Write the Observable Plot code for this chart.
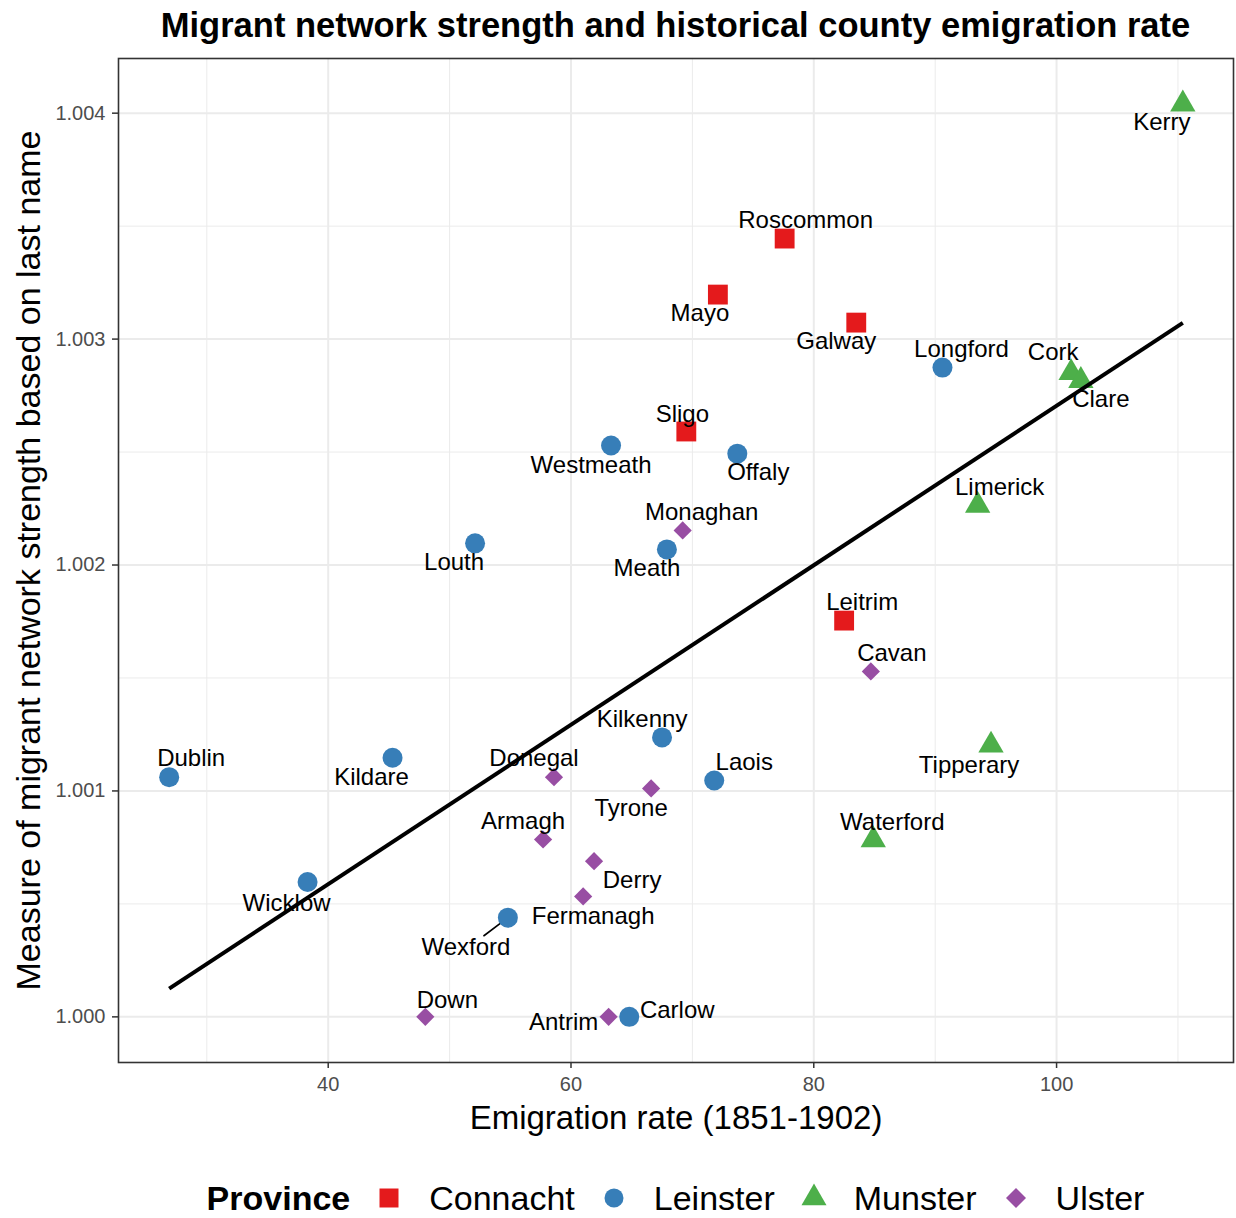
<!DOCTYPE html>
<html>
<head>
<meta charset="utf-8">
<script src="https://cdn.jsdelivr.net/npm/d3@7"></script>
<script src="https://cdn.jsdelivr.net/npm/@observablehq/plot@0.6"></script>
<style>
  body { margin: 0; background: #fff; font-family: "Liberation Sans", Arial, Helvetica, sans-serif; }
  #wrap { position: relative; width: 1236px; height: 1218px; overflow: hidden; }
  #title { position: absolute; left: 115px; width: 1121px; top: 0; height: 50px; line-height: 50px;
           text-align: center; font-weight: bold; font-size: 34.5px; color: #000; white-space: nowrap; }
  #chart { position: absolute; left: 0; top: 50px; }
  #legend { position: absolute; left: 0; top: 1178px; width: 1236px; height: 40px; padding-left: 115px;
            box-sizing: border-box; display: flex; justify-content: center; align-items: center;
            font-size: 34px; line-height: 40px; color: #000; white-space: nowrap; }
  #legend .ttl { font-weight: bold; margin-right: 24px; }
  #legend svg { display: block; }
  #legend .lab { margin-left: 25px; margin-right: 24px; }
  #legend .lab.last { margin-right: 0; }
</style>
</head>
<body>
<div id="wrap">
  <div id="title">Migrant network strength and historical county emigration rate</div>
  <div id="chart"></div>
  <div id="legend"></div>
</div>
<script>
// ---- Data ----
const counties = ["Roscommon","Mayo","Galway","Sligo","Leitrim",
  "Longford","Westmeath","Offaly","Louth","Meath","Kilkenny","Laois","Dublin","Kildare","Wicklow","Wexford","Carlow",
  "Kerry","Cork","Clare","Limerick","Tipperary","Waterford",
  "Monaghan","Cavan","Tyrone","Donegal","Armagh","Derry","Fermanagh","Down","Antrim"];
const provinces = ["Connacht","Connacht","Connacht","Connacht","Connacht",
  "Leinster","Leinster","Leinster","Leinster","Leinster","Leinster","Leinster","Leinster","Leinster","Leinster","Leinster","Leinster",
  "Munster","Munster","Munster","Munster","Munster","Munster",
  "Ulster","Ulster","Ulster","Ulster","Ulster","Ulster","Ulster","Ulster","Ulster"];
const emigrationRate = [77.6, 72.1, 83.5, 69.5, 82.5,
  90.6, 63.3, 73.7, 52.1, 67.9, 67.5, 71.8, 26.9, 45.3, 38.3, 54.8, 64.8,
  110.4, 101.2, 102.0, 93.5, 94.6, 84.9,
  69.2, 84.7, 66.6, 58.6, 57.7, 61.9, 61.0, 48.0, 63.1];
const networkStrength = [1.003445, 1.003197, 1.003073, 1.002591, 1.001754,
  1.002874, 1.002529, 1.002493, 1.002096, 1.002069, 1.001237, 1.001046, 1.001061, 1.001147, 1.000597, 1.000439, 1.000000,
  1.004040, 1.002851, 1.002816, 1.002264, 1.001202, 1.000783,
  1.002153, 1.001529, 1.001011, 1.001061, 1.000785, 1.000689, 1.000533, 1.000000, 1.000000];

const provinceNames = ["Connacht", "Leinster", "Munster", "Ulster"];
const xTicks = [40, 60, 80, 100];
const xMinorTicks = [30, 50, 70, 90, 110];
const yTicks = [1.000, 1.001, 1.002, 1.003, 1.004];
const yMinorTicks = [1.0005, 1.0015, 1.0025, 1.0035];

const titleText = "Migrant network strength and historical county emigration rate";
const xLabel = "Emigration rate (1851-1902)";
const yLabel = "Measure of migrant network strength based on last name";
const legendTitle = "Province";

// ---- Styling / layout config ----
const provinceColors = ["#E41A1C", "#377EB8", "#4DAF4A", "#984EA3"];
const provinceSymbols = ["square", "circle", "triangle", "diamond2"];
const provinceR = [11.2, 10, 9.4, 8.2];
// label nudges (pixels) emulating the repelled label placement
const labelNudge = {
  Roscommon: [21, -18], Mayo: [-18, 18.5], Galway: [-20, 19], Sligo: [-4, -17.5], Leitrim: [18, -18],
  Longford: [19, -18], Westmeath: [-20, 20], Offaly: [21, 19], Louth: [-21, 19], Meath: [-20, 19],
  Kilkenny: [-20, -18], Laois: [30, -18], Dublin: [22, -19], Kildare: [-21, 20], Wicklow: [-21, 21],
  Wexford: [-42, 30], Carlow: [48, -7], Kerry: [-21, 18], Cork: [-18, -20], Clare: [20, 19],
  Limerick: [22, -18], Tipperary: [-22, 20], Waterford: [19, -18], Monaghan: [19, -18], Cavan: [21, -18],
  Tyrone: [-20, 20], Donegal: [-20, -19], Armagh: [-20, -18], Derry: [38, 19], Fermanagh: [10, 20],
  Down: [22, -17], Antrim: [-45, 5]
};

const rows = counties.map((c, i) => ({county: c, province: provinces[i], rate: emigrationRate[i], net: networkStrength[i]}));

// ggplot-like 5% expansion
function expand(ext) { const d = (ext[1] - ext[0]) * 0.05; return [ext[0] - d, ext[1] + d]; }
const xDomain = expand(d3.extent(emigrationRate));
const yDomain = expand(d3.extent(networkStrength));

const gridColor = "#EBEBEB";
const marks = [
  Plot.gridX({ticks: xMinorTicks, stroke: gridColor, strokeOpacity: 1, strokeWidth: 1}),
  Plot.gridY({ticks: yMinorTicks, stroke: gridColor, strokeOpacity: 1, strokeWidth: 1}),
  Plot.gridX({ticks: xTicks, stroke: gridColor, strokeOpacity: 1, strokeWidth: 2}),
  Plot.gridY({ticks: yTicks, stroke: gridColor, strokeOpacity: 1, strokeWidth: 2}),
  Plot.vector(rows.filter(d => d.county === "Wexford"), {
    x: "rate", y: "net", length: 30, rotate: 233, anchor: "start",
    stroke: "black", strokeWidth: 1.6,
    shape: {draw(ctx, l) { ctx.moveTo(0, 0); ctx.lineTo(0, -l); }}
  }),
  ...provinceNames.map((p, i) => Plot.dot(rows.filter(d => d.province === p), {
    x: "rate", y: "net", symbol: provinceSymbols[i], r: provinceR[i], fill: provinceColors[i], stroke: "none"
  })),
  Plot.linearRegressionY(rows, {x: "rate", y: "net", stroke: "black", strokeWidth: 4, ci: 0, strokeLinecap: "butt"}),
  ...rows.map(d => Plot.text([d], {
    x: "rate", y: "net", text: "county", dx: labelNudge[d.county][0], dy: labelNudge[d.county][1],
    fontSize: 24, fill: "black"
  })),
  Plot.frame({stroke: "#333333", strokeWidth: 1.6}),
  Plot.axisX({ticks: xTicks, tickSize: 6, tickPadding: 8, stroke: "#333333", strokeWidth: 1.5, fill: "#4D4D4D", label: null, fontSize: 20}),
  Plot.axisY({ticks: yTicks, tickFormat: d3.format(".3f"), tickSize: 6, tickPadding: 7, stroke: "#333333", strokeWidth: 1.5, fill: "#4D4D4D", label: null, fontSize: 20}),
  Plot.text([xLabel], {text: d => d, frameAnchor: "bottom", textAnchor: "middle", lineAnchor: "middle", dy: 56, fontSize: 33, fill: "black"}),
  Plot.text([yLabel], {text: d => d, frameAnchor: "left", textAnchor: "middle", lineAnchor: "middle", dx: -89, rotate: -90, fontSize: 34, fill: "black"})
];

const chart = Plot.plot({
  width: 1236,
  height: 1100,
  marginLeft: 118,
  marginRight: 3,
  marginTop: 8,
  marginBottom: 88,
  x: {domain: xDomain},
  y: {domain: yDomain},
  style: {fontFamily: "'Liberation Sans', Arial, Helvetica, sans-serif", fontSize: "20px", background: "white", color: "black", overflow: "visible"},
  marks
});
document.getElementById("chart").appendChild(chart);

// ---- Legend ----
const legend = d3.select("#legend");
legend.append("span").attr("class", "ttl").text(legendTitle);
const legendSymbols = [[d3.symbolSquare, 361], [d3.symbolCircle, 283], [d3.symbolTriangle, 271], [d3.symbolDiamond2, 255]];
provinceNames.forEach((p, i) => {
  const svg = legend.append("svg").attr("width", 30).attr("height", 30);
  svg.append("path")
    .attr("transform", "translate(15,15)")
    .attr("d", d3.symbol(legendSymbols[i][0], legendSymbols[i][1])())
    .attr("fill", provinceColors[i]);
  legend.append("span").attr("class", "lab" + (i === provinceNames.length - 1 ? " last" : "")).text(p);
});
</script>
</body>
</html>
